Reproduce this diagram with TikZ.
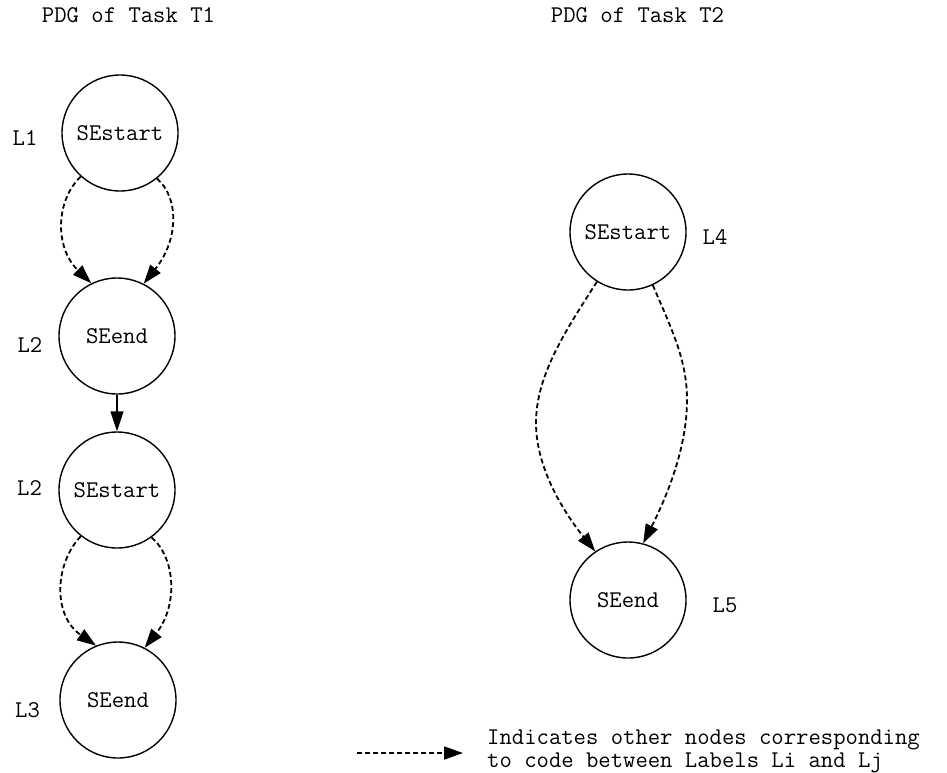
\documentclass[tikz,border=0pt]{standalone}
\usepackage{fontspec}
\usetikzlibrary{arrows.meta}
\begin{document}
\begin{tikzpicture}[x=1pt,y=-1pt,
  txt/.style={font=\ttfamily\fontsize{24}{23}\selectfont, inner sep=0pt},
  state/.style={txt, circle, draw, line width=1.4pt, minimum size=116pt},
  dep/.style={line width=1.8pt, dash pattern=on 5pt off 3pt, -{Triangle[length=19pt,width=13pt]}},
  seq/.style={line width=1.6pt, -{Triangle[length=20pt,width=13pt]}}]
\useasboundingbox (0,0) rectangle (947,772);
% titles
\node[txt] (title1) at (128.5,15) {PDG of Task T1};
\node[txt] (title2) at (637.5,15) {PDG of Task T2};
% task T1
\node[state] (a1) at (120,133) {SEstart};
\node[state] (a2) at (117,336) {SEend};
\node[state] (a3) at (117,490) {SEstart};
\node[state] (a4) at (118,700) {SEend};
\node[txt] (la1) at (25,138) {L1};
\node[txt] (la2) at (30,345) {L2};
\node[txt] (la3) at (29.5,488) {L2};
\node[txt] (la4) at (27.5,710) {L3};
% task T2
\node[state] (b1) at (628,232) {SEstart};
\node[state] (b2) at (628,600) {SEend};
\node[txt] (lb1) at (715,237) {L4};
\node[txt] (lb2) at (725,605) {L5};
% T1 connectors
\draw[dep] (a1.228) .. controls (56,200) and (54,247) .. (a2.116.6);
\draw[dep] (a1.309) .. controls (178,196) and (180,238) .. (a2.63.4);
\draw[seq] (a2.south) -- (a3.north);
\draw[dep] (a3.232.5) .. controls (55,563) and (52,615) .. (a4.112.3);
\draw[dep] (a3.306.7) .. controls (176,558) and (178,606) .. (a4.63.4);
% T2 connectors
\draw[dep] (b1.238) .. controls (566,330) and (536,375) .. (536,423)
   .. controls (536,470) and (566,515) .. (b2.124);
\draw[dep] (b1.295) .. controls (672,330) and (687,360) .. (687,400)
   .. controls (687,450) and (665,500) .. (b2.75);
% legend
\coordinate (lg1) at (357,753);
\coordinate (lg2) at (463,753);
\draw[dep] (lg1) -- (lg2);
\node[txt, anchor=west, align=left] (legend) at (487,751)
  {Indicates other nodes corresponding\\to code between Labels Li and Lj};
\end{tikzpicture}
\end{document}
